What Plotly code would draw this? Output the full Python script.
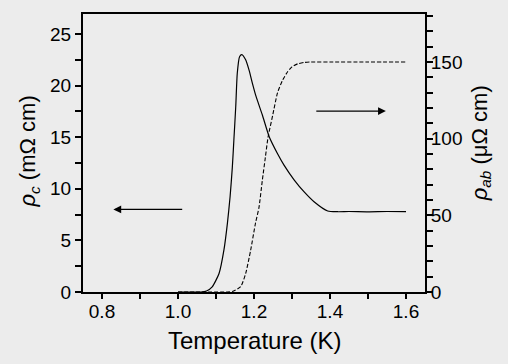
import plotly.graph_objects as go

# rho_c (left axis, mOhm cm) vs temperature (K)
T_c = [1.00, 1.06, 1.075, 1.09, 1.108, 1.121, 1.130, 1.137, 1.143, 1.147, 1.152,
       1.156, 1.162, 1.168, 1.178, 1.187, 1.196, 1.205, 1.222, 1.240, 1.262,
       1.279, 1.306, 1.332, 1.358, 1.394, 1.42, 1.45, 1.50, 1.55, 1.60]
rho_c = [0, 0, 0.1, 0.5, 1.8, 4.1, 6.65, 9.2, 12.1, 14.7, 18.0,
         21.2, 22.8, 23.0, 22.5, 21.5, 20.2, 19.0, 17.15, 15.05, 13.4,
         12.3, 10.85, 9.7, 8.75, 7.85, 7.78, 7.8, 7.77, 7.8, 7.78]

# rho_ab (right axis, uOhm cm) vs temperature (K)
T_ab = [1.00, 1.13, 1.145, 1.165, 1.178, 1.191, 1.204, 1.213, 1.222, 1.230,
        1.237, 1.249, 1.262, 1.275, 1.288, 1.300, 1.315, 1.332, 1.350, 1.40,
        1.50, 1.60]
rho_ab = [0, 0, 0.5, 3.5, 12, 27, 45, 55, 73, 88,
          101, 115, 130, 138, 143.5, 146.8, 148.8, 149.7, 150, 150,
          150, 150]

# arrow annotations (data coordinates)
arrow_left = dict(tail_x=1.015, head_x=0.83, y=8.0)
arrow_right = dict(tail_x=1.36, head_x=1.547, y=118.0)

x_title = "Temperature (K)"
y_title = "<i>ρ</i><sub><i>c</i></sub> (mΩ cm)"
y2_title = "<i>ρ</i><sub><i>ab</i></sub> (μΩ cm)"

FONT = "Liberation Sans, Arial, Helvetica, sans-serif"
BG = "#ececec"

fig = go.Figure()
fig.add_trace(go.Scatter(x=T_c, y=rho_c, mode="lines",
                         line=dict(color="black", width=1.2, shape="spline", smoothing=0.6),
                         yaxis="y", showlegend=False))
fig.add_trace(go.Scatter(x=T_ab, y=rho_ab, mode="lines",
                         line=dict(color="black", width=1.1, dash="4px,2px", shape="spline", smoothing=0.6),
                         yaxis="y2", showlegend=False))

fig.add_annotation(x=arrow_left["head_x"], y=arrow_left["y"], ax=arrow_left["tail_x"], ay=arrow_left["y"],
                   xref="x", yref="y", axref="x", ayref="y", text="", showarrow=True,
                   arrowhead=2, arrowsize=1.2, arrowwidth=1.3, arrowcolor="black")
fig.add_annotation(x=arrow_right["head_x"], y=arrow_right["y"], ax=arrow_right["tail_x"], ay=arrow_right["y"],
                   xref="x", yref="y2", axref="x", ayref="y2", text="", showarrow=True,
                   arrowhead=2, arrowsize=1.2, arrowwidth=1.3, arrowcolor="black")

tickfont = dict(family=FONT, size=19, color="black")
titlefont = dict(family=FONT, size=24, color="black")
ytitlefont = dict(family=FONT, size=22, color="black")

# axis titles as annotations for exact placement
fig.add_annotation(text=x_title, xref="paper", yref="paper", x=0.5, y=-0.176,
                   xanchor="center", yanchor="middle", showarrow=False, font=titlefont)
fig.add_annotation(text=y_title, xref="paper", yref="paper", x=-0.158, y=0.505,
                   xanchor="center", yanchor="middle", textangle=-90, showarrow=False, font=ytitlefont)
fig.add_annotation(text=y2_title, xref="paper", yref="paper", x=1.164, y=0.535,
                   xanchor="center", yanchor="middle", textangle=-90, showarrow=False, font=ytitlefont)

fig.update_layout(
    width=508, height=364,
    margin=dict(l=83, r=83, t=14, b=72, autoexpand=False),
    paper_bgcolor=BG, plot_bgcolor=BG,
    font=dict(family=FONT, color="black"),
    xaxis=dict(range=[0.75, 1.65], dtick=0.2, tick0=0, tickformat=".1f",
               automargin=False, ticklabelstandoff=-4,
               showgrid=False, zeroline=False,
               showline=True, linecolor="black", linewidth=2, mirror=True,
               ticks="outside", ticklen=5, tickwidth=1.5, tickcolor="black",
               minor=dict(dtick=0.1, tick0=0, ticks="outside", ticklen=5, tickwidth=1.5, tickcolor="black"),
               tickfont=tickfont),
    yaxis=dict(range=[0, 26.94], dtick=5, tick0=0, automargin=False,
               showgrid=False, zeroline=False,
               showline=True, linecolor="black", linewidth=2,
               ticks="outside", ticklen=6, tickwidth=1.5, tickcolor="black",
               minor=dict(dtick=2.5, tick0=0, ticks="outside", ticklen=6, tickwidth=1.5, tickcolor="black"),
               tickfont=tickfont),
    yaxis2=dict(range=[0, 181.3], dtick=50, tick0=0, overlaying="y", side="right",
                automargin=False, ticklabelstandoff=-6,
                showgrid=False, zeroline=False,
                showline=True, linecolor="black", linewidth=2,
                ticks="outside", ticklen=6, tickwidth=1.5, tickcolor="black",
                minor=dict(dtick=10, tick0=0, ticks="outside", ticklen=6, tickwidth=1.5, tickcolor="black"),
                tickfont=tickfont),
)

fig.write_html("out.html",
               config={"displayModeBar": False},
               post_script="document.body.style.margin='0';document.body.style.padding='0';"
                           "document.body.style.background='" + BG + "';"
                           "document.body.style.overflow='hidden';")
